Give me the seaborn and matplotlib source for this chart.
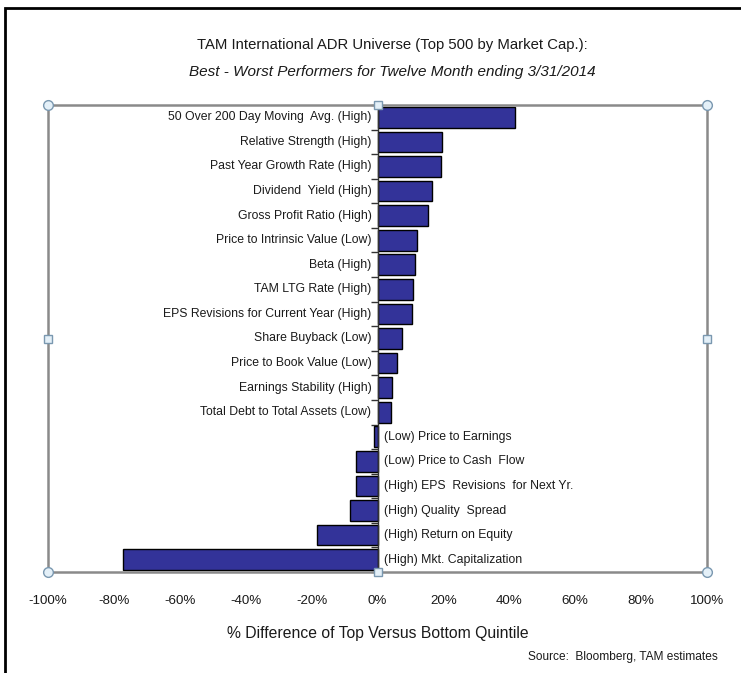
import matplotlib
matplotlib.use("Agg")
import matplotlib.pyplot as plt
import matplotlib.transforms as mtransforms
from matplotlib.patches import Rectangle
from matplotlib.ticker import FixedLocator, NullFormatter
import seaborn as sns
import pandas as pd

categories = [
    "50 Over 200 Day Moving  Avg. (High)",
    "Relative Strength (High)",
    "Past Year Growth Rate (High)",
    "Dividend  Yield (High)",
    "Gross Profit Ratio (High)",
    "Price to Intrinsic Value (Low)",
    "Beta (High)",
    "TAM LTG Rate (High)",
    "EPS Revisions for Current Year (High)",
    "Share Buyback (Low)",
    "Price to Book Value (Low)",
    "Earnings Stability (High)",
    "Total Debt to Total Assets (Low)",
    "(Low) Price to Earnings",
    "(Low) Price to Cash  Flow",
    "(High) EPS  Revisions  for Next Yr.",
    "(High) Quality  Spread",
    "(High) Return on Equity",
    "(High) Mkt. Capitalization",
]
values = [41.6, 19.5, 19.3, 16.4, 15.3, 12.1, 11.5, 10.9, 10.6, 7.5, 5.8, 4.3, 4.0,
          -1.1, -6.6, -6.6, -8.3, -18.5, -77.3]
xticks = [-100, -80, -60, -40, -20, 0, 20, 40, 60, 80, 100]
xtick_labels = [f"{t}%" for t in xticks]

title1 = "TAM International ADR Universe (Top 500 by Market Cap.):"
title2 = "Best - Worst Performers for Twelve Month ending 3/31/2014"
xlabel = "% Difference of Top Versus Bottom Quintile"
source = "Source:  Bloomberg, TAM estimates"

sns.set_theme(style="white")
plt.rcParams["font.family"] = ["Liberation Sans", "DejaVu Sans"]

W, H = 741, 673
fig = plt.figure(figsize=(W / 100, H / 100), dpi=100)
fig.patch.set_facecolor("white")

# outer black frame
fig.patches.append(Rectangle((5 / W, -0.05), 1.1, 1 - 8 / H + 0.05, transform=fig.transFigure,
                             fill=False, edgecolor="black", linewidth=2.0))

L, R, T, B = 48, 707, 105, 572
ax = fig.add_axes([L / W, 1 - B / H, (R - L) / W, (B - T) / H])

df = pd.DataFrame({"cat": categories, "val": values})
sns.barplot(data=df, x="val", y="cat", orient="h", color="#333399", saturation=1,
            edgecolor="black", linewidth=1.0, width=0.84, ax=ax)

n = len(categories)
ax.set_xlim(-100, 100)
ax.set_ylim(n - 0.5, -0.5)
ax.set_xticks(xticks)
ax.set_xticklabels(xtick_labels, fontsize=9.6, color="#1a1a1a")
ax.tick_params(axis="x", direction="out", length=8, width=1, color="#777777", pad=8.5)
ax.set_xlabel(xlabel, fontsize=11.3, color="#1a1a1a", labelpad=14)
ax.set_ylabel("")

# y axis at zero with boundary ticks
ax.spines["left"].set_position(("data", 0))
ax.spines["left"].set_color("#333333")
ax.spines["left"].set_linewidth(1.0)
ax.yaxis.set_major_locator(FixedLocator([i + 0.5 for i in range(-1, n)]))
ax.yaxis.set_major_formatter(NullFormatter())
ax.tick_params(axis="y", direction="out", length=5, width=1, color="#333333", left=True)
for s in ["top", "right", "bottom"]:
    ax.spines[s].set_visible(False)

# plot-area frame (gray)
ax.add_patch(Rectangle((0, 0), 1, 1, transform=ax.transAxes, fill=False,
                       edgecolor="#8a8a8a", linewidth=1.8, clip_on=False, zorder=5))
# selection handles
ax.plot([0, 1, 0, 1], [0, 0, 1, 1], linestyle="none", marker="o", markersize=7,
        markerfacecolor="#e4f0f8", markeredgecolor="#7a98b0", markeredgewidth=1,
        transform=ax.transAxes, clip_on=False, zorder=6)
ax.plot([0.5, 0.5, 0, 1], [0, 1, 0.5, 0.5], linestyle="none", marker="s", markersize=6,
        markerfacecolor="#e4f0f8", markeredgecolor="#7a98b0", markeredgewidth=1,
        transform=ax.transAxes, clip_on=False, zorder=6)

# category labels next to zero
left_tr = mtransforms.offset_copy(ax.transData, fig=fig, x=-6, y=0, units="dots")
right_tr = mtransforms.offset_copy(ax.transData, fig=fig, x=7, y=0, units="dots")
for i, (c, v) in enumerate(zip(categories, values)):
    if v >= 0:
        ax.text(0, i, c, ha="right", va="center", fontsize=8.8, color="#1a1a1a",
                transform=left_tr)
    else:
        ax.text(0, i, c, ha="left", va="center", fontsize=8.8, color="#1a1a1a",
                transform=right_tr)

fig.text(392 / W, 1 - 45 / H, title1, ha="center", va="center", fontsize=10.7, color="#1a1a1a")
fig.text(392 / W, 1 - 72 / H, title2, ha="center", va="center", fontsize=11.0,
         style="italic", color="#1a1a1a")
fig.text(718 / W, 1 - 657 / H, source, ha="right", va="center", fontsize=8.6, color="#1a1a1a")

fig.savefig("out.png", dpi=100)
